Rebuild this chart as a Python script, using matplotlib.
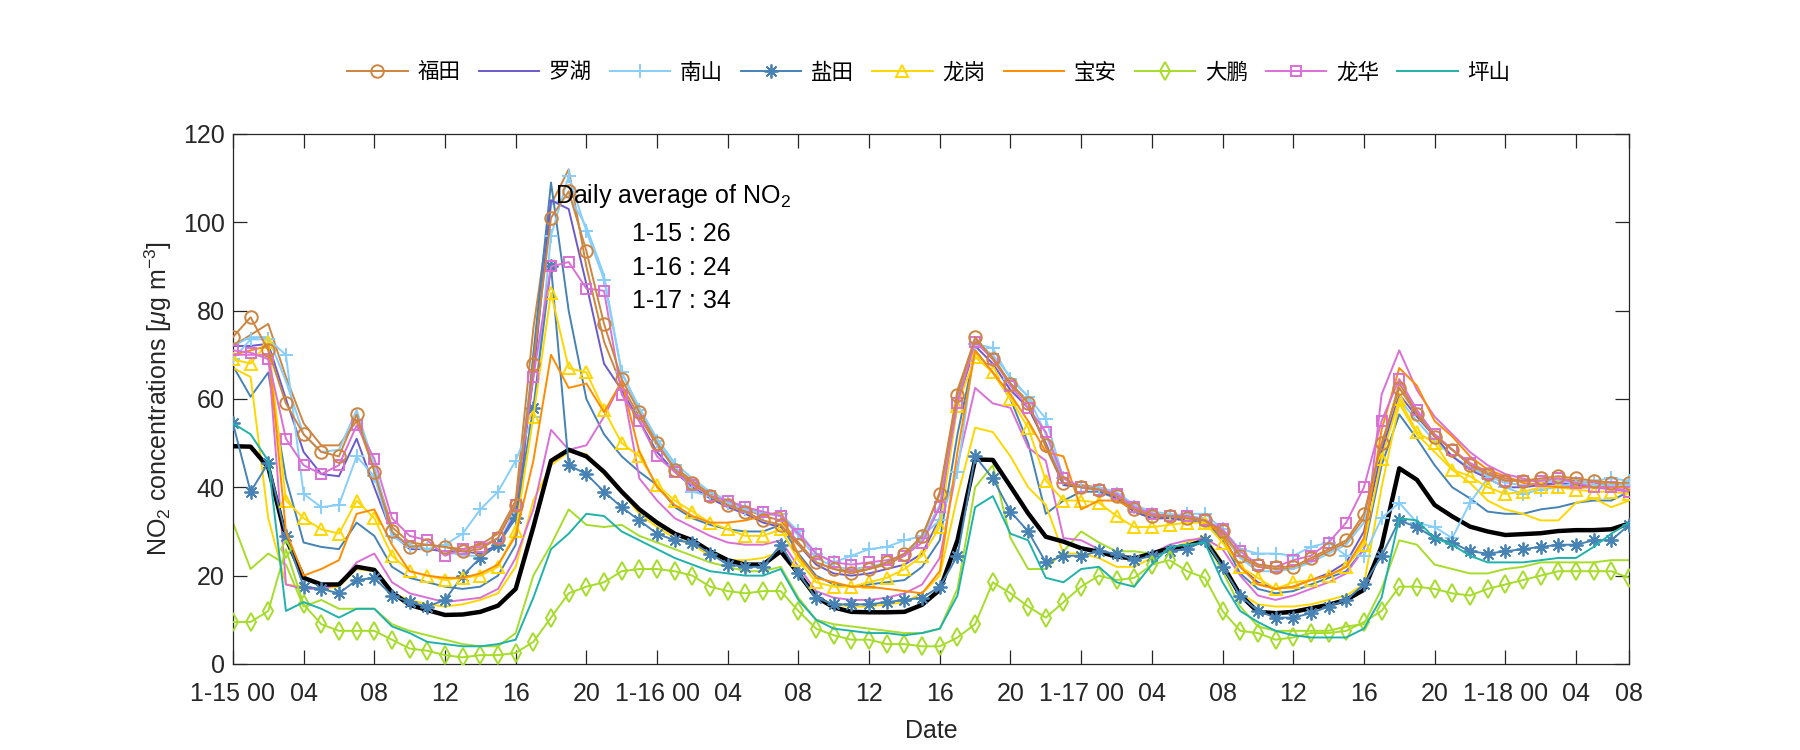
import matplotlib
matplotlib.use('Agg')
import matplotlib.pyplot as plt
from matplotlib import font_manager

# fonts
names = {f.name for f in font_manager.fontManager.ttflist}
base = 'Liberation Sans Narrow' if 'Liberation Sans Narrow' in names else 'Liberation Sans'
plt.rcParams['font.family'] = [base, 'Noto Sans CJK SC', 'DejaVu Sans']
plt.rcParams['mathtext.fontset'] = 'custom'
plt.rcParams['mathtext.rm'] = base
plt.rcParams['mathtext.it'] = base + ':italic'

# hours from 1-15 00:00
hours = list(range(80))
tick_pos = [0, 4, 8, 12, 16, 20, 24, 28, 32, 36, 40, 44, 48, 52, 56, 60, 64, 68, 72, 76, 79]
tick_lab = ['1-15 00', '04', '08', '12', '16', '20', '1-16 00', '04', '08', '12', '16', '20',
            '1-17 00', '04', '08', '12', '16', '20', '1-18 00', '04', '08']

# legend series (one per district)
fukuda = [74, 78.5, 71, 59, 52, 48, 47, 56.5, 43.5, 30,
          26.5, 27, 26.5, 25.5, 26, 28.5, 36, 68, 101, 107,
          93.5, 77, 64.5, 57, 50, 44, 41, 38, 36, 34.5,
          32.5, 31.5, 27, 23, 21.5, 20.5, 21.5, 23, 25, 29,
          38.5, 61, 74, 69, 63.5, 59, 49.5, 41, 40, 39.5,
          38, 35, 33.5, 33.5, 33, 32.5, 30, 24.5, 22.5, 22,
          22, 24, 26, 28, 34, 50, 62.5, 56.5, 51.5, 48.5,
          45, 43, 41.5, 41.5, 42, 42.5, 42, 41.5, 41, 41]
luohu = [72, 72, 72.5, 60, 48, 43, 42.5, 51, 40, 29.5,
         26, 26, 25.5, 25.5, 25, 27, 34, 65, 105, 103,
         86, 68, 62, 55, 48, 43.5, 40, 37.5, 35.5, 34,
         32, 31, 27, 22.5, 20.5, 20, 20.5, 21.5, 22.5, 25,
         33, 59, 72, 68, 62, 58, 50, 40.5, 40, 39.5,
         37.5, 34.5, 33, 33, 32.5, 32, 29, 22, 18.5, 17,
         17.5, 19, 20.5, 23, 30, 48, 61, 56, 51.5, 47,
         44, 42, 40, 40, 40.5, 41, 40.5, 40, 40, 40]
nanshan = [69, 73.5, 73.5, 70, 38.5, 35.5, 36, 47, 42.5, 29,
           26.5, 26, 27, 29.5, 35, 39, 46, 56, 97, 110.5,
           98, 87, 66, 57.5, 50.5, 45, 39, 38, 36.5, 35,
           34, 34, 30, 25, 23, 24.5, 26, 26.5, 28, 29,
           32.5, 43.5, 72.5, 71.5, 64.5, 60.5, 55.5, 42, 40, 39.5,
           38.5, 35.5, 34, 33.5, 34, 34, 30.5, 26, 25, 25,
           24.5, 26.5, 27.5, 24.5, 24.5, 33, 36.5, 32, 31, 28.5,
           36.5, 42, 40, 38.5, 39.5, 40, 41, 41.5, 42, 41.5]
yantian = [54.5, 39, 45.5, 29, 17.5, 17, 16, 19, 19.5, 15.5,
           14, 13, 14.5, 20, 24, 27, 33, 58, 90, 45,
           43, 39, 35.5, 32.5, 29.5, 28, 27.5, 25, 22.5, 22,
           22, 27, 20.5, 15, 13.5, 13.5, 13.5, 14, 14.5, 15,
           17.5, 24.5, 47, 42, 34.5, 30, 23, 24.5, 24.5, 25.5,
           25, 23.5, 24.5, 25.5, 26, 28, 22, 15.5, 12, 10.5,
           10.5, 11.5, 13, 14.5, 18, 24.5, 32.5, 31, 28.5, 27.5,
           25.5, 25, 25.5, 26, 26.5, 27, 27, 28, 28, 31.5]
longgang = [69, 68, 73, 37, 33, 30.5, 29.5, 37, 33, 24.5,
            21, 20, 19, 19.5, 20, 22, 30, 56, 84, 67,
            66, 57.5, 50, 47, 40.5, 37, 34.5, 32, 30.5, 29,
            29, 30.5, 23.5, 18.5, 17.5, 17.5, 18.5, 19.5, 21.5, 24.5,
            31, 58.5, 69.5, 66, 60, 53.5, 41.5, 37, 37, 36.5,
            33.5, 31, 31, 31.5, 32, 32, 27.5, 22, 19.5, 17,
            18.5, 19, 20, 22, 27, 46.5, 60, 52.5, 50, 44,
            42.5, 40, 38.5, 39, 40, 40, 39.5, 39, 39, 38.5]
baoan = [70, 71, 72, 30, 20, 21.5, 23.5, 34, 35, 27,
         21, 20, 19.5, 19.5, 20.5, 22.5, 29, 46, 70, 62.5,
         63.5, 57, 64, 48, 40, 36, 33.5, 32, 32, 32.5,
         33.5, 34.5, 24.5, 19.5, 18.5, 17.5, 17.5, 17, 16.5, 16,
         21, 48, 71, 66, 61, 55, 48, 47, 35, 37,
         37, 35, 34, 33.5, 33.5, 32.5, 29, 22, 18, 17,
         17.5, 19, 20, 22, 28.5, 53, 67, 63, 55, 51.5,
         47, 44, 42.5, 41, 40.5, 40, 40, 40, 40, 40]
dapeng = [9.5, 9.5, 12, 26, 13.5, 9, 7.5, 7.5, 7.5, 5.5,
          3.5, 3, 2, 1.5, 2, 2, 2.5, 5, 10.5, 16,
          17.5, 18.5, 21, 21.5, 21.5, 21, 20, 17.5, 16.5, 16,
          16.5, 16.5, 12, 8, 6.5, 5.5, 5.5, 4.5, 4.5, 4,
          4, 6, 9, 18.5, 16, 13, 10.5, 14, 17.5, 20,
          19, 19.5, 22.5, 23.5, 21, 19.5, 12, 7.5, 7, 5.5,
          6, 7, 7, 7.5, 9.5, 12, 17.5, 17.5, 17, 16,
          15.5, 17, 18, 19, 20, 21, 21, 21, 21, 19.5]
longhua = [71, 70.5, 69, 51, 45, 43, 45, 54, 46.5, 33,
           29, 28, 24.5, 26, 26.5, 28.5, 36, 65, 90, 91,
           85, 84.5, 61, 55, 47, 43.5, 40.5, 38, 37, 35.5,
           34.5, 33.5, 29.5, 25, 23, 22.5, 23, 23.5, 24.5, 27.5,
           35.5, 59, 73, 69, 63, 58, 52.5, 42, 40, 39.5,
           38.5, 35.5, 34, 33.5, 33.5, 32.5, 30.5, 25.5, 22.5, 22,
           23.5, 24.5, 27.5, 32, 40, 55, 64.5, 57.5, 52, 48.5,
           45.5, 43, 41.5, 41.5, 41.5, 42, 41, 40, 40, 39]
pingshan = [54.5, 52, 46, 12, 14, 12.5, 10.5, 12.5, 12.5, 8.5,
            7, 5, 4.5, 4, 4, 4.5, 5.5, 15, 26, 29.5,
            34, 33.5, 30, 28, 26, 24, 22.5, 21, 20.5, 20,
            20, 21.5, 14.5, 10, 8, 7.5, 7, 7, 6.5, 7,
            8, 15.5, 35.5, 38, 29.5, 28, 19.5, 18.5, 21.5, 22,
            18.5, 17.5, 22.5, 26.5, 27, 27.5, 18.5, 12, 9.5, 7.5,
            6.5, 6, 6, 6, 8, 15, 33, 32.5, 28.5, 27,
            24.5, 23, 23, 23, 23.5, 24, 24, 26.5, 29.5, 32]

# other stations, no legend entry
fukuda2 = [72, 74.5, 77, 65, 54.5, 49.5, 49.5, 55, 44, 31,
           27.5, 27, 26.5, 26, 27, 29.5, 37, 76, 104, 112,
           90, 73, 63, 56, 49.5, 44.5, 41.5, 38.5, 36.5, 35,
           33.5, 32.5, 27.5, 23, 21.5, 21, 21.5, 22.5, 24.5, 28.5,
           39, 62, 73.5, 69.5, 63.5, 59.5, 49, 40.5, 40.5, 40,
           38.5, 35.5, 34, 33.5, 33, 32.5, 29.5, 24, 22, 21.5,
           21.5, 23.5, 25.5, 27.5, 33, 49, 63.5, 57, 52, 48.5,
           45.5, 43.5, 42, 41.5, 41.5, 42, 41.5, 41, 40.5, 40.5]
nanshan2 = [72, 74, 74, 64, 52, 48, 48.5, 57.5, 45, 29.5,
            27, 26, 25.5, 24.5, 24.5, 27, 35, 70, 104, 106,
            99, 88, 66, 58, 51, 45.5, 42, 39, 37, 35.5,
            34, 33.5, 29, 24, 22, 21.5, 22, 23, 25, 28.5,
            36, 60, 72.5, 70, 65, 60.5, 52, 41, 40, 40,
            39, 36, 34.5, 34, 33.5, 33, 30, 24, 21, 21,
            21.5, 23, 25, 27, 32, 48, 60, 55, 50.5, 47,
            44.5, 42.5, 41, 40.5, 41, 41.5, 41, 40.5, 40.5, 40.5]
yantian2 = [67.5, 60.5, 66, 42, 27.5, 26.5, 26, 32, 29, 22,
            19.5, 18.5, 17.5, 17, 17.5, 20, 27, 70, 109, 80,
            60, 52, 47, 43.5, 40.5, 35.5, 33, 31.5, 30.5, 30,
            30, 31.5, 25, 20, 18, 17.5, 18, 18.5, 19, 22,
            28, 52, 71, 66, 60, 50, 34, 37, 39, 39,
            37.5, 34.5, 33, 33, 32.5, 32, 28, 20.5, 17, 16,
            16.5, 18, 19.5, 21, 26, 45, 56.5, 51, 45, 40,
            37.5, 34.5, 34, 34, 35, 35.5, 36.5, 37, 37, 39]
longgang2 = [67, 65, 33, 18, 17.5, 17, 17.5, 21.5, 21, 16,
             14.5, 13.5, 13, 13.5, 14.5, 16, 22, 37, 45, 48,
             47.5, 43, 39, 34, 31, 28.5, 27, 24.5, 23.5, 23.5,
             24, 25.5, 20, 15, 13.5, 13, 13, 13.5, 14, 16,
             20, 38, 53.5, 52.5, 47, 40, 36, 25, 25, 24,
             22, 22, 24, 26, 27.5, 29, 23, 16, 13.5, 13,
             13, 13.5, 14.5, 15.5, 18, 40, 59, 52, 48, 44,
             41, 37, 35, 34, 32.5, 32.5, 36.5, 37.5, 35.5, 37]
dapeng2 = [32, 21.5, 25, 22.5, 13, 14.5, 12.5, 12.5, 12.5, 9,
           7.5, 6.5, 5.5, 4.5, 4, 4, 7, 20, 27, 35,
           31.5, 31, 31.5, 29, 27.5, 26, 24.5, 23, 22, 21,
           21, 22, 15, 10, 9, 8.5, 8, 7.5, 7, 7,
           8, 17, 40, 45, 28.5, 21.5, 21.5, 25.5, 30, 27.5,
           25.5, 25.5, 25, 26, 27, 28, 21, 13, 8.5, 7.5,
           7.5, 7.5, 7.5, 8.5, 9, 17, 28, 27, 22.5, 21.5,
           20.5, 20.5, 21.5, 22, 23, 23, 23, 23, 23.5, 23.5]
longhua2 = [70, 70, 70, 18, 17, 17, 18, 23, 25, 18.5,
            16, 15, 14, 14.5, 15, 17, 24, 35, 53, 48.5,
            49.5, 56, 64, 42, 37, 33, 31, 29, 27.5, 27,
            27, 28, 22, 16.5, 15, 14.5, 14.5, 15, 16, 18,
            24, 45, 62.5, 59, 58, 49, 46, 28.5, 28, 26,
            24.5, 24, 25, 27, 28, 28.5, 26, 20, 15.5, 14.5,
            15.5, 17, 18.5, 20.5, 26, 61, 71, 62, 56, 52,
            48, 45, 43, 42, 41, 40.5, 40, 40, 39.5, 39]

# mean of all stations (black)
average = [49.3, 49.2, 44.5, 28.5, 19.5, 18, 18, 22, 21.3, 16.2,
           13.4, 12.2, 11.1, 11.2, 11.8, 13.2, 17, 31, 46, 48.5,
           47, 43.5, 39, 35, 32, 29.5, 28, 25.5, 23.5, 22.5,
           22.5, 25.5, 20.5, 15.2, 12.8, 11.8, 11.7, 11.7, 11.8, 13.4,
           16.8, 28, 46.3, 46.2, 40.2, 34.1, 28.8, 27.7, 26.2, 25.4,
           24.3, 23.9, 25, 26.2, 26.7, 28, 22.4, 15.6, 11.8, 11.5,
           11.8, 12.6, 13.4, 14.5, 16.8, 26.6, 44.3, 41.7, 36, 33.4,
           31.1, 30, 29.2, 29.4, 29.6, 30.1, 30.3, 30.3, 30.5, 31.8]

daily_avg = ['1-15 : 26', '1-16 : 24', '1-17 : 34']

# colours
c_fukuda = '#CD853F'
c_luohu = '#6A5ACD'
c_nanshan = '#87CEFA'
c_yantian = '#4682B4'
c_longgang = '#FFD700'
c_baoan = '#FF8C00'
c_dapeng = '#A6DC2A'
c_longhua = '#DA70D6'
c_pingshan = '#20B2AA'

fs = 18
fig = plt.figure(figsize=(18, 7.5), dpi=100)
ax = fig.add_axes([0.1294, 0.1147, 0.7756, 0.7067])

# background stations
lw = 1.4
for vals, col in [(fukuda2, c_fukuda), (nanshan2, c_nanshan), (yantian2, c_yantian),
                  (longgang2, c_longgang), (dapeng2, c_dapeng), (longhua2, c_longhua)]:
    ax.plot(hours, vals, color=col, lw=lw, zorder=2)

ax.plot(hours, average, color='black', lw=3.2, zorder=3)

mk = dict(ms=9, mew=1.4, mfc='none', lw=lw, zorder=4)
h1, = ax.plot(hours, fukuda, color=c_fukuda, marker='o', **mk)
h2, = ax.plot(hours, luohu, color=c_luohu, lw=lw, zorder=4)
h3, = ax.plot(hours, nanshan, color=c_nanshan, marker='+', ms=10, mew=1.4, lw=lw, zorder=4)
h4, = ax.plot(hours, yantian, color=c_yantian, marker=(8, 2, 0), ms=10, mew=1.3, lw=lw, zorder=4)
h5, = ax.plot(hours, longgang, color=c_longgang, marker='^', **mk)
h6, = ax.plot(hours, baoan, color=c_baoan, lw=lw, zorder=4)
h7, = ax.plot(hours, dapeng, color=c_dapeng, marker='d', **mk)
h8, = ax.plot(hours, longhua, color=c_longhua, marker='s', ms=7, mew=1.4, mfc='none', lw=lw, zorder=4)
h9, = ax.plot(hours, pingshan, color=c_pingshan, lw=lw, zorder=4)
# keep fukuda on top
h1.set_zorder(5)

ax.set_xlim(0, 79)
ax.set_ylim(0, 120)
ax.set_xticks(tick_pos)
ax.set_xticklabels(tick_lab)
ax.set_yticks([0, 20, 40, 60, 80, 100, 120])

for s in ax.spines.values():
    s.set_color('#262626')
    s.set_linewidth(0.9)
ax.tick_params(direction='in', length=10, width=0.9, color='#262626', top=True, right=True,
               labelsize=fs, labelcolor='#262626')
ax.tick_params(axis='x', pad=13)
ax.tick_params(axis='y', pad=6)

ax.set_xlabel('Date', fontsize=fs, color='#262626', labelpad=9)
ax.set_ylabel('NO$_2$ concentrations [$\\mu$g m$^{-3}$]', fontsize=fs, color='#262626', labelpad=6)

# daily average note
ax.text(24.9, 106, 'Daily average of NO$_2$', ha='center', va='center', fontsize=fs, zorder=6)
for i, txt in enumerate(daily_avg):
    ax.text(25.4, 97.3 - 7.6 * i, txt, ha='center', va='center', fontsize=fs, zorder=6)

leg = fig.legend([h1, h2, h3, h4, h5, h6, h7, h8, h9],
                 ['福田', '罗湖', '南山', '盐田', '龙岗', '宝安', '大鹏', '龙华', '坪山'],
                 loc='center', bbox_to_anchor=(0.516, 0.902), ncol=9, frameon=False,
                 fontsize=15.5, handlelength=2.8, handletextpad=0.45, columnspacing=0.85)

fig.savefig('out.png', dpi=100)
